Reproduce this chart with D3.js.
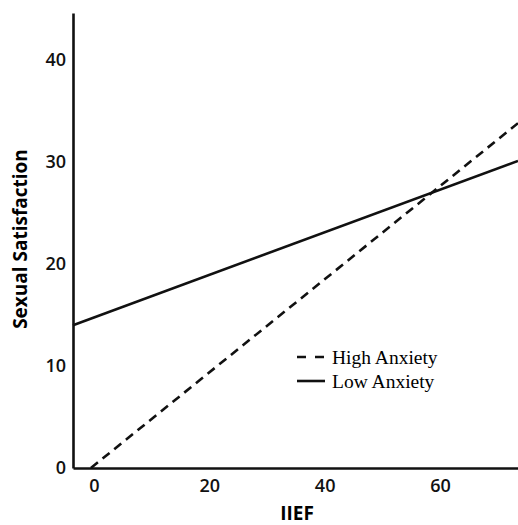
<!DOCTYPE html>
<html>
<head>
<meta charset="utf-8">
<script src="https://cdn.jsdelivr.net/npm/d3@7"></script>
<style>
  body { margin: 0; background: #fff; }
  svg { display: block; }
</style>
</head>
<body>
<div id="chart"></div>
<script>
// fitted lines: [IIEF, satisfaction] end points
const lowAnxiety = [[-3.6, 14.0], [73.5, 30.1]];
const highAnxiety = [[-0.5, 0], [73.5, 33.8]];
const xTicks = [0, 20, 40, 60];
const yTicks = [0, 10, 20, 30, 40];
const legendNames = ["High Anxiety", "Low Anxiety"];

const width = 518, height = 525;
const margin = {top: 13, right: 0, bottom: 57, left: 73};

const svg = d3.select("#chart")
  .append("svg")
  .attr("width", width)
  .attr("height", height);

// scales
const x = d3.scaleLinear()
  .domain([-3.6, 73.5])
  .range([margin.left, width - margin.right]);

const y = d3.scaleLinear()
  .domain([0, 44.6])
  .range([height - margin.bottom, margin.top]);

// axes
const xAxis = svg.append("g")
  .attr("transform", `translate(0,${height - margin.bottom})`)
  .call(d3.axisBottom(x).tickValues(xTicks).tickSize(0).tickPadding(11).tickSizeOuter(0));

const yAxis = svg.append("g")
  .attr("transform", `translate(${margin.left},0)`)
  .call(d3.axisLeft(y).tickValues(yTicks).tickSize(0).tickPadding(7).tickSizeOuter(0));

[xAxis, yAxis].forEach(g => {
  g.select(".domain").attr("stroke", "#111").attr("stroke-width", 2.6);
  g.selectAll("text")
    .style("font-family", "'Open Sans', sans-serif")
    .style("font-size", "18px")
    .style("font-weight", 600)
    .attr("fill", "#111");
});

// axis titles
svg.append("text")
  .attr("x", 297)
  .attr("y", 520)
  .attr("text-anchor", "middle")
  .style("font-family", "'Open Sans', sans-serif")
  .style("font-size", "19px")
  .style("font-weight", "bold")
  .text("IIEF");

svg.append("text")
  .attr("transform", "translate(27,239) rotate(-90)")
  .attr("text-anchor", "middle")
  .style("font-family", "'Open Sans', sans-serif")
  .style("font-size", "19px")
  .style("font-weight", "bold")
  .text("Sexual Satisfaction");

// the two lines
const line = d3.line()
  .x(d => x(d[0]))
  .y(d => y(d[1]));

svg.append("path")
  .datum(lowAnxiety)
  .attr("d", line)
  .attr("fill", "none")
  .attr("stroke", "#111")
  .attr("stroke-width", 2.6);

svg.append("path")
  .datum(highAnxiety)
  .attr("d", line)
  .attr("fill", "none")
  .attr("stroke", "#111")
  .attr("stroke-width", 2.6)
  .attr("stroke-dasharray", "9,6");

// legend
const legend = svg.append("g").attr("transform", "translate(297,357)");
legendNames.forEach((name, i) => {
  const row = legend.append("g").attr("transform", `translate(0,${i * 24})`);
  row.append("line")
    .attr("x1", 0).attr("x2", 28)
    .attr("y1", 0).attr("y2", 0)
    .attr("stroke", "#111")
    .attr("stroke-width", 2.6)
    .attr("stroke-dasharray", i === 0 ? "9,9" : null);
  row.append("text")
    .attr("x", 35)
    .attr("y", 7)
    .style("font-family", "'Liberation Serif', 'Times New Roman', serif")
    .style("font-size", "19.5px")
    .text(name);
});
</script>
</body>
</html>
